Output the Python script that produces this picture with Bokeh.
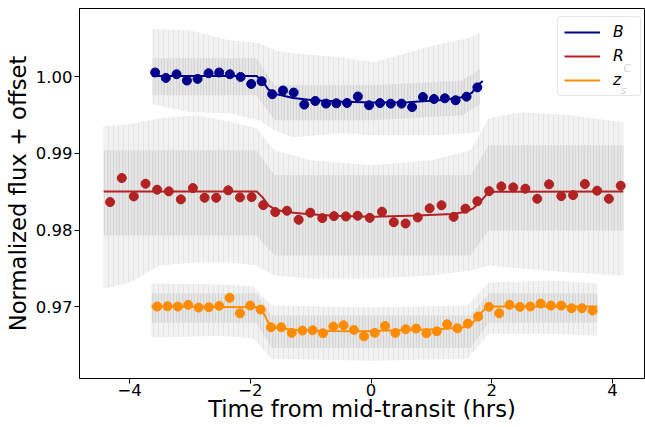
from bokeh.plotting import figure
from bokeh.models import (FixedTicker, Legend, LegendItem, Label, Range1d,
                          ColumnDataSource, NumeralTickFormatter)
from bokeh.embed import file_html
from bokeh.resources import INLINE

# ---------------- data ----------------
B_time = [-3.577, -3.400, -3.222, -3.051, -2.874, -2.692, -2.516, -2.338, -2.161, -1.985,
          -1.813, -1.637, -1.459, -1.282, -1.106, -0.924, -0.746, -0.575, -0.398, -0.219,
          -0.033, 0.148, 0.327, 0.506, 0.680, 0.859, 1.043, 1.222, 1.401, 1.582, 1.761]
B_flux = [1.00058, 0.99987, 1.00035, 0.99953, 0.99974, 1.00048, 1.00058, 1.00035, 1.00000, 0.99908,
          0.99944, 0.99774, 0.99822, 0.99796, 0.99639, 0.99686, 0.99652, 0.99656, 0.99660, 0.99744,
          0.99630, 0.99658, 0.99651, 0.99651, 0.99606, 0.99738, 0.99712, 0.99721, 0.99695, 0.99742,
          0.99863]
B_err = 0.0003

R_time = [-4.323, -4.129, -3.930, -3.736, -3.544, -3.350, -3.151, -2.952, -2.758, -2.566,
          -2.367, -2.172, -1.978, -1.786, -1.587, -1.393, -1.199, -1.007, -0.808, -0.614,
          -0.416, -0.222, -0.022, 0.181, 0.376, 0.572, 0.774, 0.970, 1.167, 1.368,
          1.564, 1.761, 1.957, 2.158, 2.355, 2.556, 2.753, 2.949, 3.151, 3.347,
          3.542, 3.745, 3.940, 4.136]
R_flux = [0.98365, 0.98679, 0.98439, 0.98605, 0.98527, 0.98505, 0.98400, 0.98548, 0.98422, 0.98422,
          0.98518, 0.98426, 0.98430, 0.98325, 0.98234, 0.98252, 0.98134, 0.98226, 0.98155, 0.98181,
          0.98177, 0.98187, 0.98159, 0.98239, 0.98102, 0.98085, 0.98164, 0.98283, 0.98323, 0.98172,
          0.98279, 0.98376, 0.98508, 0.98570, 0.98557, 0.98540, 0.98408, 0.98597, 0.98443, 0.98456,
          0.98601, 0.98514, 0.98408, 0.98579]
R_err = 0.0006

Z_time = [-3.544, -3.371, -3.201, -3.030, -2.857, -2.687, -2.516, -2.343, -2.172, -2.002,
          -1.829, -1.658, -1.488, -1.315, -1.139, -0.967, -0.796, -0.625, -0.456, -0.285,
          -0.116, 0.061, 0.232, 0.403, 0.575, 0.746, 0.917, 1.090, 1.260, 1.431,
          1.604, 1.774, 1.952, 2.123, 2.294, 2.466, 2.637, 2.808, 2.980, 3.151,
          3.322, 3.494, 3.670]
Z_flux = [0.97000, 0.97004, 0.97000, 0.97022, 0.96987, 0.96991, 0.97009, 0.97114, 0.96912, 0.97013,
          0.96961, 0.96729, 0.96729, 0.96656, 0.96686, 0.96690, 0.96651, 0.96738, 0.96755, 0.96695,
          0.96611, 0.96656, 0.96747, 0.96656, 0.96703, 0.96712, 0.96651, 0.96677, 0.96768, 0.96716,
          0.96777, 0.96869, 0.96996, 0.96912, 0.97022, 0.96996, 0.97000, 0.97039, 0.97013, 0.97013,
          0.96978, 0.96978, 0.96948]
Z_err = 0.0003

B_model_t = [-3.62, -1.895, -1.79, -1.70, -1.56, -1.29, -0.96, -0.51, 0.0, 0.61, 1.17, 1.50, 1.67, 1.75, 1.85]
B_model_f = [1.00012, 1.00012, 0.99935, 0.99835, 0.99774, 0.99725, 0.99695, 0.99678, 0.99665, 0.99669,
             0.99699, 0.99734, 0.99792, 0.99880, 0.99946]

R_model_t = [-4.43, -1.895, -1.80, -1.70, -1.59, -1.40, -1.07, -0.63, -0.18, 0.05, 0.77, 1.34, 1.56,
             1.70, 1.84, 1.95, 4.18]
R_model_f = [0.98504, 0.98504, 0.98430, 0.98321, 0.98269, 0.98234, 0.98208, 0.98187, 0.98177, 0.98172,
             0.98190, 0.98209, 0.98235, 0.98287, 0.98398, 0.98499, 0.98504]

Z_model_t = [-3.64, -1.84, -1.76, -1.69, -1.56, -1.23, -0.68, -0.18, 0.59, 1.14, 1.53, 1.67, 1.81, 1.92, 3.75]
Z_model_f = [0.97000, 0.96991, 0.96882, 0.96773, 0.96721, 0.96695, 0.96682, 0.96677, 0.96695, 0.96703,
             0.96729, 0.96773, 0.96904, 0.97000, 0.97000]

# outer envelope of the unbinned grey measurements (with their error bars)
B_cloud_t = [-3.62, -3.0, -2.35, -1.85, -1.6, -1.3, -0.5, 0.05, 1.05, 1.6, 1.80]
B_cloud_hi = [1.00624, 1.00611, 1.00480, 1.00441, 1.00349, 1.00310, 1.00258, 1.00192, 1.00415, 1.00506, 1.00572]
B_cloud_lo = [0.99643, 0.99538, 0.99525, 0.99433, 0.99303, 0.99211, 0.99263, 0.99237, 0.99237, 0.99263, 0.99290]

R_cloud_t = [-4.43, -4.0, -3.5, -2.9, -2.3, -1.9, -1.6, -1.0, 0.0, 1.0, 1.65, 1.95, 2.5, 3.3, 4.18]
R_cloud_hi = [0.99355, 0.99381, 0.99459, 0.99498, 0.99407, 0.99329, 0.99041, 0.98910, 0.98845, 0.98910,
              0.99041, 0.99459, 0.99538, 0.99498, 0.99407]
R_cloud_lo = [0.97235, 0.97313, 0.97536, 0.97575, 0.97575, 0.97536, 0.97405, 0.97366, 0.97366, 0.97405,
              0.97470, 0.97536, 0.97496, 0.97444, 0.97405]

Z_cloud_t = [-3.64, -2.5, -1.95, -1.65, 0.0, 1.6, 1.95, 3.0, 3.75]
Z_cloud_hi = [0.97301, 0.97288, 0.97262, 0.97013, 0.96987, 0.97013, 0.97314, 0.97340, 0.97301]
Z_cloud_lo = [0.96594, 0.96620, 0.96581, 0.96319, 0.96293, 0.96319, 0.96646, 0.96646, 0.96620]

# inner (dense) part of the grey scatter
B_core_t = [-3.62, -1.9, -1.6, 0.0, 1.5, 1.80]
B_core_hi = [1.00244, 1.00244, 0.99890, 0.99890, 0.99950, 1.00100]
B_core_lo = [0.99760, 0.99760, 0.99433, 0.99433, 0.99500, 0.99640]

R_core_t = [-4.43, -1.9, -1.6, 1.65, 1.95, 4.18]
R_core_hi = [0.99041, 0.99041, 0.98714, 0.98714, 0.99106, 0.99106]
R_core_lo = [0.97928, 0.97928, 0.97667, 0.97667, 0.97994, 0.97994]

Z_core_t = [-3.64, -1.9, -1.65, 1.65, 1.95, 3.75]
Z_core_hi = [0.97169, 0.97169, 0.96882, 0.96882, 0.97169, 0.97169]
Z_core_lo = [0.96790, 0.96790, 0.96463, 0.96463, 0.96790, 0.96790]

x_ticks = [-4, -2, 0, 2, 4]
y_ticks = [0.97, 0.98, 0.99, 1.00]

colors = {"B": "#00008b", "R": "#b22222", "Z": "#ff8c00"}
FONT = "DejaVu Sans"

# ---------------- figure ----------------
W, H = 645, 427
LEFT, RIGHT, TOP, BOTTOM = 79, 1, 8, 49
p = figure(width=W, height=H, output_backend="svg", toolbar_location=None,
           x_range=Range1d(-4.83, 4.53), y_range=Range1d(0.9606, 1.00894),
           min_border_left=LEFT, min_border_right=RIGHT, min_border_top=TOP,
           min_border_bottom=BOTTOM)
p.background_fill_color = "white"
p.border_fill_color = "white"
p.outline_line_color = "black"
p.outline_line_width = 1
p.xgrid.visible = False
p.ygrid.visible = False

for ax in (p.xaxis[0], p.yaxis[0]):
    ax.major_tick_in = 0
    ax.major_tick_out = 5
    ax.minor_tick_line_color = None
    ax.axis_line_color = "black"
    ax.major_tick_line_color = "black"
    ax.major_label_text_font = FONT
    ax.major_label_text_font_size = "16.5px"
    ax.major_label_text_color = "black"
    ax.axis_label_text_font = FONT
    ax.axis_label_text_font_size = "22.7px"
    ax.axis_label_text_font_style = "normal"
    ax.axis_label_text_color = "black"

p.xaxis.ticker = FixedTicker(ticks=x_ticks)
p.yaxis.ticker = FixedTicker(ticks=y_ticks)
p.yaxis.formatter = NumeralTickFormatter(format="0.00")
p.xaxis.axis_label = "Time from mid-transit (hrs)"
p.yaxis.axis_label = "Normalized flux + offset"
p.xaxis.major_label_standoff = 0
p.xaxis.axis_label_standoff = -3
p.yaxis.major_label_standoff = 2
p.yaxis.axis_label_standoff = 2

for t, lo, hi in ((R_cloud_t, R_cloud_lo, R_cloud_hi),
                  (B_cloud_t, B_cloud_lo, B_cloud_hi),
                  (Z_cloud_t, Z_cloud_lo, Z_cloud_hi)):
    p.varea(x=t, y1=lo, y2=hi, fill_color="#e8e8e8", fill_alpha=0.55,
            hatch_pattern="vertical_line", hatch_color="#c8c8c8", hatch_alpha=0.35,
            hatch_scale=5, hatch_weight=1)
for t, lo, hi in ((R_core_t, R_core_lo, R_core_hi),
                  (B_core_t, B_core_lo, B_core_hi),
                  (Z_core_t, Z_core_lo, Z_core_hi)):
    p.varea(x=t, y1=lo, y2=hi, fill_color="#d4d4d4", fill_alpha=0.35,
            hatch_pattern="vertical_line", hatch_color="#b4b4b4", hatch_alpha=0.3,
            hatch_scale=3, hatch_weight=1)

lB = p.line(B_model_t, B_model_f, line_color=colors["B"], line_width=2)
lR = p.line(R_model_t, R_model_f, line_color=colors["R"], line_width=2)
lZ = p.line(Z_model_t, Z_model_f, line_color=colors["Z"], line_width=2)

for t, f, e, c in ((B_time, B_flux, B_err, colors["B"]),
                   (R_time, R_flux, R_err, colors["R"]),
                   (Z_time, Z_flux, Z_err, colors["Z"])):
    src = ColumnDataSource(dict(t=t, f=f, lo=[v - e for v in f], hi=[v + e for v in f]))
    p.segment(x0="t", x1="t", y0="lo", y1="hi", source=src, line_color=c, line_width=2)
    p.scatter(x="t", y="f", source=src, size=9, fill_color=c, line_color=c)

legend = Legend(items=[LegendItem(label="B", renderers=[lB]),
                       LegendItem(label="R", renderers=[lR]),
                       LegendItem(label="z", renderers=[lZ])],
                location=(478, 282.5), orientation="vertical")
legend.label_text_font = FONT
legend.label_text_font_style = "italic"
legend.label_text_font_size = "15.5px"
legend.label_text_color = "black"
legend.glyph_width = 36
legend.glyph_height = 16
legend.label_height = 16
legend.label_width = 21
legend.label_standoff = 13
legend.spacing = 6
legend.padding = 6
legend.margin = 0
legend.border_line_color = "#cccccc"
legend.border_line_width = 1
legend.border_radius = 4
legend.background_fill_alpha = 0.8
p.add_layout(legend)

# subscripts of the legend labels (frame-relative screen px)
p.add_layout(Label(x=544, y=310, x_units="screen", y_units="screen", text="C",
                   text_font=FONT, text_font_style="italic", text_font_size="11px",
                   text_baseline="alphabetic", text_color="black"))
p.add_layout(Label(x=541, y=288, x_units="screen", y_units="screen", text="s",
                   text_font=FONT, text_font_style="italic", text_font_size="11px",
                   text_baseline="alphabetic", text_color="black"))

open("out.html", "w").write(file_html(p, INLINE))
